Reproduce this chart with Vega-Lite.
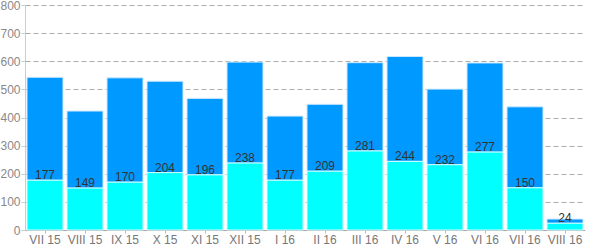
{
  "$schema": "https://vega.github.io/schema/vega-lite/v6.json",
  "width": 560,
  "height": 225,
  "autosize": {"type": "none"},
  "padding": {"left": 25, "top": 5, "right": 15, "bottom": 20},
  "background": "white",
  "config": {"view": {"stroke": null}, "font": "Liberation Sans"},
  "data": {"values": [
    {"m": "VII 15", "a": 177, "b": 366},
    {"m": "VIII 15", "a": 149, "b": 274},
    {"m": "IX 15", "a": 170, "b": 371},
    {"m": "X 15", "a": 204, "b": 325},
    {"m": "XI 15", "a": 196, "b": 272},
    {"m": "XII 15", "a": 238, "b": 359},
    {"m": "I 16", "a": 177, "b": 228},
    {"m": "II 16", "a": 209, "b": 238},
    {"m": "III 16", "a": 281, "b": 314},
    {"m": "IV 16", "a": 244, "b": 373},
    {"m": "V 16", "a": 232, "b": 269},
    {"m": "VI 16", "a": 277, "b": 317},
    {"m": "VII 16", "a": 150, "b": 288},
    {"m": "VIII 16", "a": 24, "b": 15}
  ]},
  "transform": [{"calculate": "datum.a + datum.b", "as": "t"}],
  "encoding": {
    "x": {
      "field": "m", "type": "nominal", "sort": null,
      "scale": {"paddingInner": 0.1, "paddingOuter": 0.05},
      "axis": {"title": null, "labelAngle": 0, "labelColor": "#777", "labelFontSize": 12, "domainColor": "#aaa", "tickColor": "#bbb", "tickSize": 3, "labelPadding": 1, "grid": false}
    }
  },
  "layer": [
    {
      "mark": {"type": "bar", "color": "#0099ff", "stroke": "#cfe9ff", "strokeWidth": 1},
      "encoding": {
        "y": {"field": "t", "type": "quantitative", "scale": {"domain": [0, 800]},
          "axis": {"title": null, "tickCount": 8, "labelColor": "#888", "labelFontSize": 12, "gridColor": "#aaa", "gridDash": [5, 3], "domainColor": "#ccc", "tickColor": "#ccc", "tickSize": 4, "labelPadding": 1}},
        "y2": {"field": "a"}
      }
    },
    {
      "mark": {"type": "bar", "color": "#00ffff", "stroke": "#cfffff", "strokeWidth": 1},
      "encoding": {
        "y": {"field": "a", "type": "quantitative"},
        "y2": {"datum": 0}
      }
    },
    {
      "mark": {"type": "text", "baseline": "alphabetic", "dy": -1, "color": "#333", "fontSize": 12},
      "encoding": {
        "y": {"field": "a", "type": "quantitative"},
        "text": {"field": "a", "type": "quantitative"}
      }
    }
  ]
}
